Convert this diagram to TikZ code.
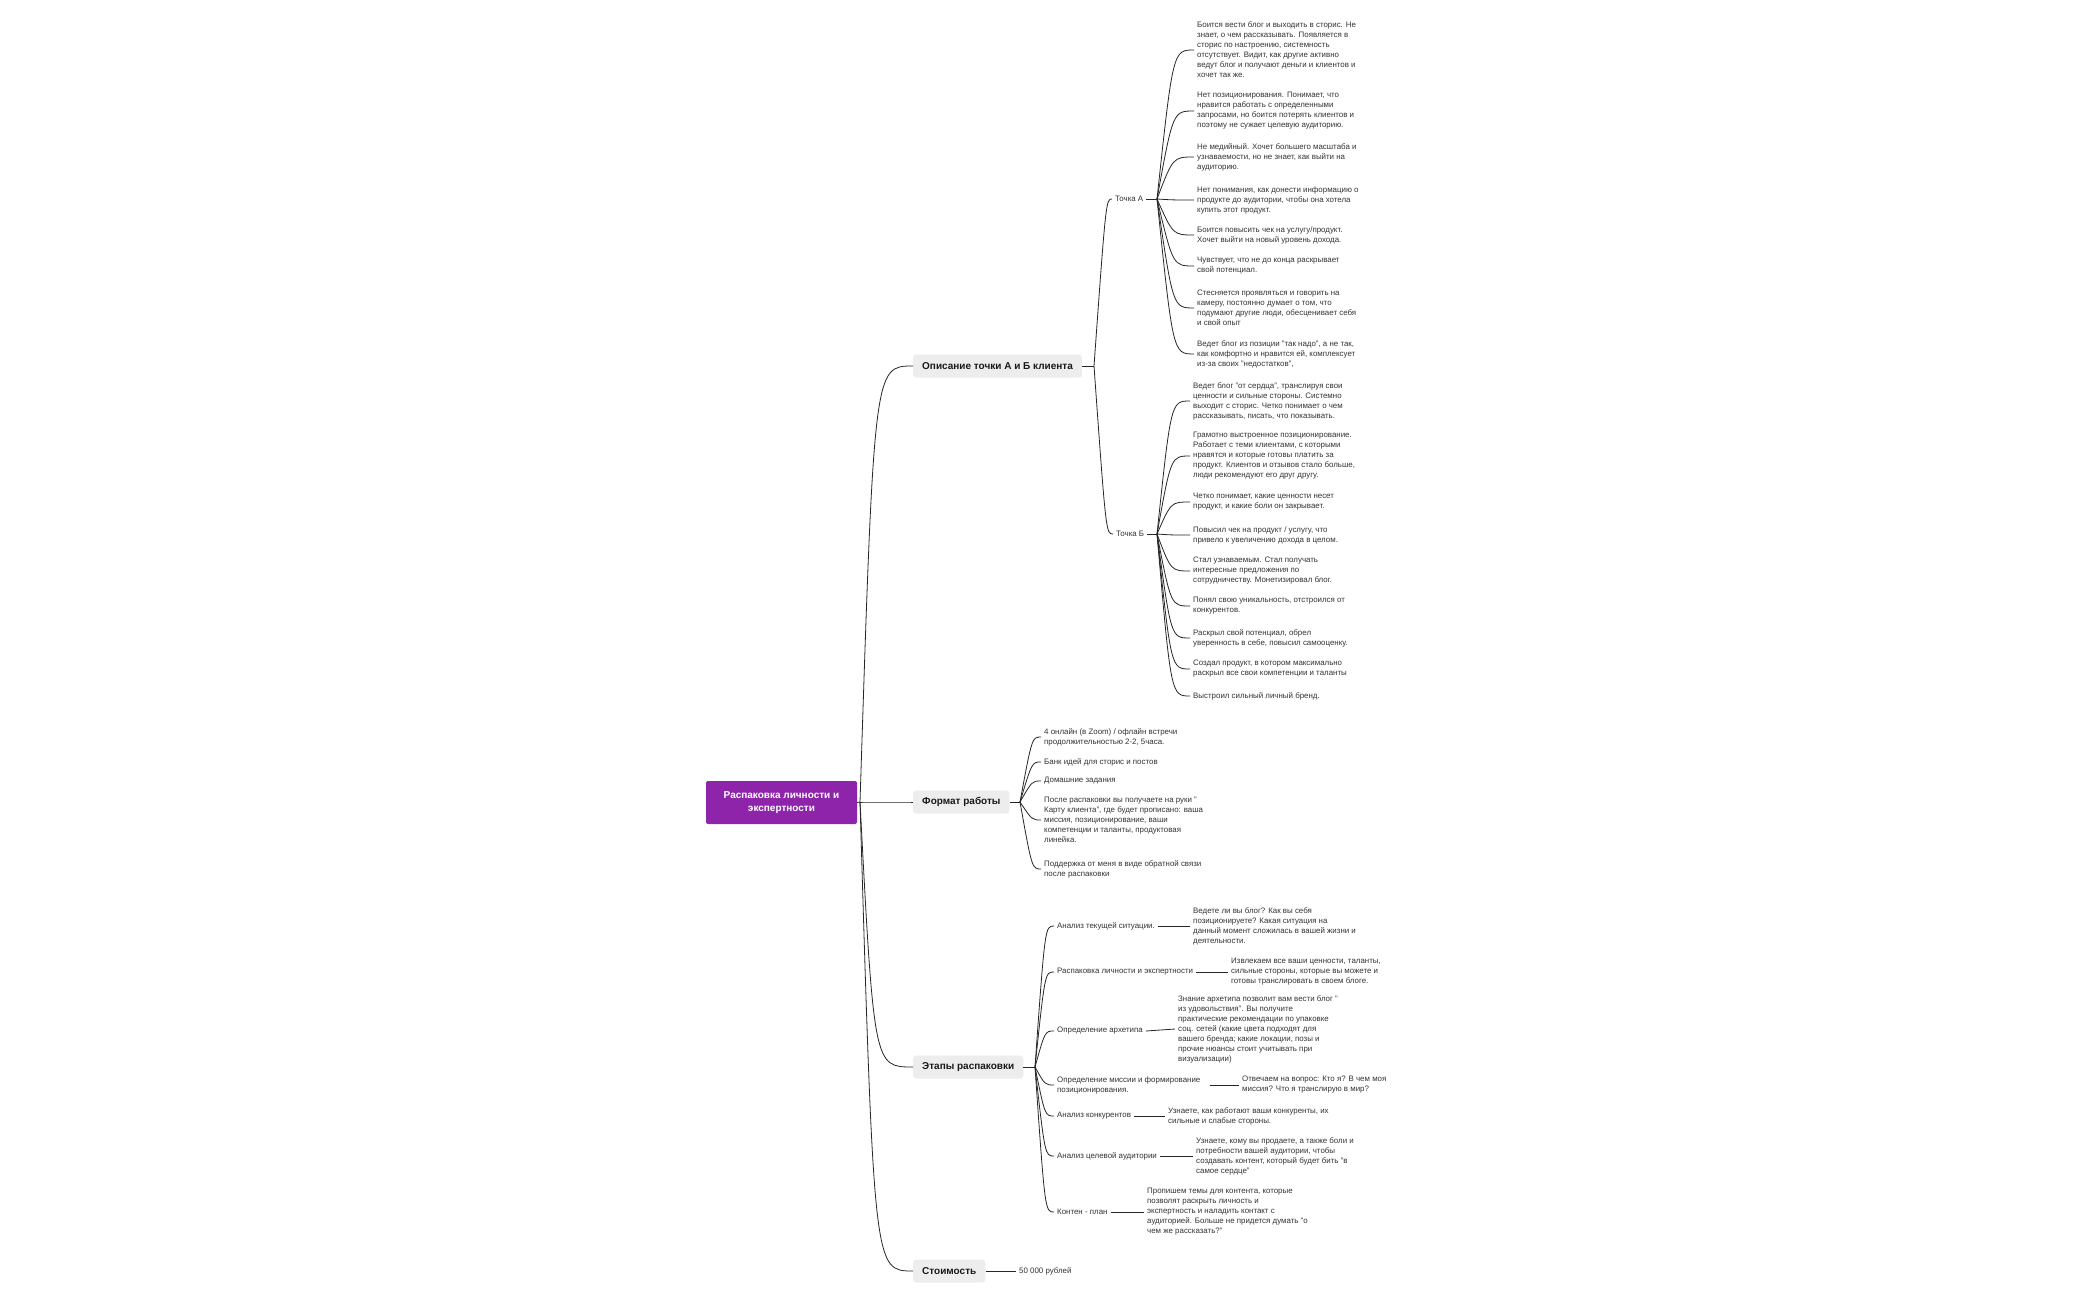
\documentclass[tikz,border=0pt]{standalone}
\usepackage{fontspec}
\setmainfont{Liberation Sans}
\usetikzlibrary{calc}
\definecolor{rootc}{HTML}{8E24AA}
\definecolor{txt}{HTML}{333333}
\definecolor{boxc}{HTML}{EDEDED}
\begin{document}
\begin{tikzpicture}[x=1pt,y=-1pt,
  conn/.style={line width=0.8pt,draw=black!85},
  leaf/.style={anchor=west,inner xsep=3pt,inner ysep=0pt,align=left,text=txt,font=\fontsize{7.9}{10}\selectfont},
  mid/.style={anchor=west,inner xsep=3pt,inner ysep=0pt,align=left,text=txt,font=\fontsize{7.9}{10}\selectfont},
  br/.style={anchor=west,fill=boxc,rounded corners=3pt,minimum height=23pt,inner xsep=9pt,text=black!90,font=\fontsize{10}{11}\selectfont\bfseries},
  root/.style={fill=rootc,rounded corners=2pt,minimum width=151pt,minimum height=43pt,text=white,align=center,font=\fontsize{10}{13}\selectfont\bfseries}]
\newcommand\brc[3]{\draw[conn] (#1) .. controls ([xshift=#3]#1 |- #2.west) .. (#2.west);}
\useasboundingbox (0,0) rectangle (2100,1300);
\fill[white] (0,0) rectangle (2100,1300);

\node[root] (R) at (781.5,802.5) {Распаковка личности и\\экспертности};
\node[br] (B1) at (913,366) {Описание точки А и Б клиента};
\node[br] (B2) at (913,802) {Формат работы};
\node[br] (B3) at (913,1067) {Этапы распаковки};
\node[br] (B4) at (913,1271) {Стоимость};

\coordinate (jr) at (860,802);
\draw[conn] (R.east) -- (jr);
\brc{jr}{B1}{14} \brc{jr}{B2}{14} \brc{jr}{B3}{14} \brc{jr}{B4}{14}

% Point A / B
\node[mid] (TA) at (1112,199) {Точка А};
\node[mid] (TB) at (1113,534) {Точка Б};
\coordinate (j1) at (1094,366);
\draw[conn] (B1.east) -- (j1);
\brc{j1}{TA}{12} \brc{j1}{TB}{12}

\node[leaf] (A1) at (1194,50) {Боится вести блог и выходить в сторис. Не\\знает, о чем рассказывать. Появляется в\\сторис по настроению, системность\\отсутствует. Видит, как другие активно\\ведут блог и получают деньги и клиентов и\\хочет так же.};
\node[leaf] (A2) at (1194,111) {Нет позиционирования. Понимает, что\\нравится работать с определенными\\запросами, но боится потерять клиентов и\\поэтому не сужает целевую аудиторию.};
\node[leaf] (A3) at (1194,157) {Не медийный.  Хочет большего масштаба и\\узнаваемости, но не знает, как выйти на\\аудиторию.};
\node[leaf] (A4) at (1194,200) {Нет понимания, как донести информацию о\\продукте до аудитории, чтобы она хотела\\купить этот продукт.};
\node[leaf] (A5) at (1194,235) {Боится повысить чек на услугу/продукт.\\Хочет выйти на новый уровень дохода.};
\node[leaf] (A6) at (1194,266) {Чувствует, что не до конца раскрывает\\свой потенциал.};
\node[leaf] (A7) at (1194,308) {Стесняется проявляться и говорить на\\камеру, постоянно думает о том, что\\подумают другие люди, обесценивает себя\\и свой опыт};
\node[leaf] (A8) at (1194,354) {Ведет блог из позиции "так надо", а не так,\\как комфортно и нравится ей, комплексует\\из-за своих "недостатков",};
\coordinate (ja) at (1157,199);
\draw[conn] (TA.east) -- (ja);
\foreach \n in {A1,A2,A3,A4,A5,A6,A7,A8}{\brc{ja}{\n}{16}}

\node[leaf] (Bb1) at (1190,401) {Ведет блог "от сердца", транслируя свои\\ценности и сильные стороны. Системно\\выходит с сторис. Четко понимает о чем\\рассказывать, писать, что показывать.};
\node[leaf] (Bb2) at (1190,456) {Грамотно выстроенное позиционирование.\\Работает с теми клиентами, с которыми\\нравятся и которые готовы платить за\\продукт. Клиентов и отзывов стало больше,\\люди рекомендуют его друг другу.};
\node[leaf] (Bb3) at (1190,502) {Четко понимает, какие ценности несет\\продукт, и какие боли он закрывает.};
\node[leaf] (Bb4) at (1190,535) {Повысил чек на продукт / услугу, что\\привело к увеличению дохода в целом.};
\node[leaf] (Bb5) at (1190,571) {Стал узнаваемым. Стал получать\\интересные предложения по\\сотрудничеству. Монетизировал блог.};
\node[leaf] (Bb6) at (1190,606) {Понял свою уникальность, отстроился от\\конкурентов.};
\node[leaf] (Bb7) at (1190,638) {Раскрыл свой потенциал, обрел\\уверенность в себе, повысил самооценку.};
\node[leaf] (Bb8) at (1190,669) {Создал продукт, в котором максимально\\раскрыл все свои компетенции и таланты};
\node[leaf] (Bb9) at (1190,696) {Выстроил сильный личный бренд.};
\coordinate (jb) at (1157,534);
\draw[conn] (TB.east) -- (jb);
\foreach \n in {Bb1,Bb2,Bb3,Bb4,Bb5,Bb6,Bb7,Bb8,Bb9}{\brc{jb}{\n}{14}}

% Format
\node[leaf] (F1) at (1041,737) {4  онлайн (в Zoom) / офлайн встречи\\продолжительностью 2-2, 5часа.};
\node[leaf] (F2) at (1041,762) {Банк идей для сторис и постов};
\node[leaf] (F3) at (1041,781) {Домашние задания};
\node[leaf] (F4) at (1041,820) {После распаковки вы получаете на руки "\\Карту клиента", где будет прописано: ваша\\миссия, позиционирование, ваши\\компетенции и таланты, продуктовая\\линейка.};
\node[leaf] (F5) at (1041,869) {Поддержка от меня в виде обратной связи\\после распаковки};
\coordinate (jf) at (1020,802);
\draw[conn] (B2.east) -- (jf);
\foreach \n in {F1,F2,F3,F4,F5}{\brc{jf}{\n}{12}}

% Stages
\node[mid] (E1) at (1054,926) {Анализ текущей ситуации.};
\node[mid] (E2) at (1054,972) {Распаковка личности и экспертности};
\node[mid] (E3) at (1054,1031) {Определение архетипа};
\node[mid] (E4) at (1054,1085) {Определение миссии и формирование\\позиционирования.};
\node[mid] (E5) at (1054,1116) {Анализ конкурентов};
\node[mid] (E6) at (1054,1156) {Анализ целевой аудитории};
\node[mid] (E7) at (1054,1212) {Контен - план};
\coordinate (je) at (1035,1067);
\draw[conn] (B3.east) -- (je);
\foreach \n in {E1,E2,E3,E4,E5,E6,E7}{\brc{je}{\n}{10}}

\node[leaf] (L1) at (1190,926) {Ведете ли вы блог? Как вы себя\\позиционируете? Какая ситуация на\\данный момент сложилась в вашей жизни и\\деятельности.};
\node[leaf] (L2) at (1228,972) {Извлекаем все ваши ценности, таланты,\\сильные стороны, которые вы можете и\\готовы транслировать в своем блоге.};
\node[leaf] (L3) at (1175,1029) {Знание архетипа позволит вам вести блог "\\из удовольствия". Вы получите\\практические рекомендации по упаковке\\соц. сетей (какие цвета подходят для\\вашего бренда; какие локации, позы и\\прочие нюансы стоит учитывать при\\визуализации)};
\node[leaf] (L4) at (1239,1085) {Отвечаем на вопрос: Кто я? В чем моя\\миссия? Что я транслирую в мир?};
\node[leaf] (L5) at (1165,1116) {Узнаете, как работают ваши конкуренты, их\\сильные и слабые стороны.};
\node[leaf] (L6) at (1193,1156) {Узнаете, кому вы продаете, а также боли и\\потребности вашей аудитории, чтобы\\создавать контент, который будет бить "в\\самое сердце"};
\node[leaf] (L7) at (1144,1212) {Пропишем темы для контента, которые\\позволят раскрыть личность и\\экспертность и наладить контакт с\\аудиторией. Больше не придется думать "о\\чем же рассказать?"};
\draw[conn] (E1.east) -- (L1.west);
\draw[conn] (E2.east) -- (L2.west);
\draw[conn] (E3.east) -- (L3.west);
\draw[conn] ([xshift=6]E4.east) -- (L4.west);
\draw[conn] (E5.east) -- (L5.west);
\draw[conn] (E6.east) -- (L6.west);
\draw[conn] (E7.east) -- (L7.west);

\node[leaf] (P1) at (1016,1271) {50 000 рублей};
\draw[conn] (B4.east) -- (P1.west);
\end{tikzpicture}
\end{document}
